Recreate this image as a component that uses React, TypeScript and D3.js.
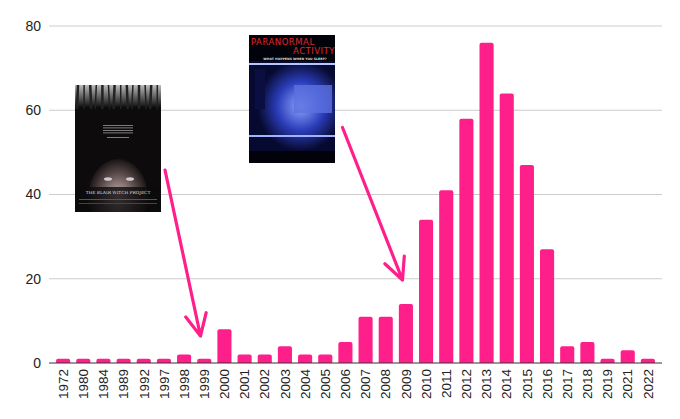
import { useEffect, useRef } from 'react';
import * as d3 from 'd3';

const years = ['1972', '1980', '1984', '1989', '1992', '1997', '1998', '1999', '2000', '2001', '2002', '2003', '2004', '2005', '2006', '2007', '2008', '2009', '2010', '2011', '2012', '2013', '2014', '2015', '2016', '2017', '2018', '2019', '2021', '2022'];
const counts = [1, 1, 1, 1, 1, 1, 2, 1, 8, 2, 2, 4, 2, 2, 5, 11, 11, 14, 34, 41, 58, 76, 64, 47, 27, 4, 5, 1, 3, 1];
const yTicks = [0, 20, 40, 60, 80];

const width = 680;
const height = 419;
const PINK = '#ff1f8a';
const FONT = '"Liberation Sans", Arial, sans-serif';

export default function App() {
  const svgRef = useRef<SVGSVGElement>(null);

  useEffect(() => {
    if (!svgRef.current) return;
    const svg = d3.select(svgRef.current);
    svg.selectAll('*').remove();

    const margin = { top: 26, right: 18, bottom: 56, left: 49 };
    const innerW = width - margin.left - margin.right;
    const innerH = height - margin.top - margin.bottom;

    const x = d3.scaleBand<string>().domain(years).range([0, innerW]).paddingInner(0.3).paddingOuter(0.35);
    const y = d3.scaleLinear().domain([0, 80]).range([innerH, 0]);

    const g = svg.append('g').attr('transform', `translate(${margin.left},${margin.top})`);

    // grid
    g.selectAll('.grid')
      .data(yTicks.filter(t => t > 0))
      .enter().append('line')
      .attr('x1', 0).attr('x2', innerW)
      .attr('y1', d => y(d)).attr('y2', d => y(d))
      .attr('stroke', '#cccccc').attr('stroke-width', 1);

    g.selectAll('.ytick')
      .data(yTicks)
      .enter().append('text')
      .attr('x', -8).attr('y', d => y(d)).attr('dy', '0.35em')
      .attr('text-anchor', 'end')
      .style('font-family', FONT)
      .style('font-size', '14px')
      .attr('fill', '#222')
      .text(d => d);

    // bars
    g.selectAll('.bar')
      .data(years.map((yr, i) => ({ yr, v: counts[i] })))
      .enter().append('path')
      .attr('fill', PINK)
      .attr('d', d => {
        const x0 = x(d.yr)!;
        const w = x.bandwidth();
        const top = y(d.v);
        const bottom = y(0);
        const r = Math.min(2, (bottom - top) / 2);
        return `M${x0},${bottom}V${top + r}Q${x0},${top} ${x0 + r},${top}H${x0 + w - r}Q${x0 + w},${top} ${x0 + w},${top + r}V${bottom}Z`;
      });

    // baseline
    g.append('line')
      .attr('x1', 0).attr('x2', innerW)
      .attr('y1', y(0)).attr('y2', y(0))
      .attr('stroke', '#333').attr('stroke-width', 1);

    // x labels
    g.selectAll('.xlabel')
      .data(years)
      .enter().append('text')
      .attr('transform', d => `translate(${x(d)! + x.bandwidth() / 2},${innerH + 6}) rotate(-90)`)
      .attr('dy', '0.35em')
      .attr('text-anchor', 'end')
      .style('font-family', FONT)
      .style('font-size', '13.5px')
      .attr('fill', '#222')
      .text(d => d);

    // posters
    const defs = svg.append('defs');
    const bwGrad = defs.append('linearGradient').attr('id', 'bwTop').attr('x1', 0).attr('x2', 0).attr('y1', 0).attr('y2', 1);
    bwGrad.append('stop').attr('offset', '0%').attr('stop-color', '#bbb');
    bwGrad.append('stop').attr('offset', '100%').attr('stop-color', '#111');
    const faceGrad = defs.append('radialGradient').attr('id', 'bwFace');
    faceGrad.append('stop').attr('offset', '0%').attr('stop-color', '#cdbab6');
    faceGrad.append('stop').attr('offset', '60%').attr('stop-color', '#5e4e4e');
    faceGrad.append('stop').attr('offset', '100%').attr('stop-color', '#1a1414');
    const paGrad = defs.append('radialGradient').attr('id', 'paScene').attr('cx', '60%').attr('cy', '50%');
    paGrad.append('stop').attr('offset', '0%').attr('stop-color', '#8fa6ff');
    paGrad.append('stop').attr('offset', '55%').attr('stop-color', '#2a3cb8');
    paGrad.append('stop').attr('offset', '100%').attr('stop-color', '#070a30');
    defs.append('clipPath').attr('id', 'bwClip')
      .append('rect').attr('width', 86).attr('height', 127);
    defs.append('clipPath').attr('id', 'paClip')
      .append('rect').attr('width', 86).attr('height', 128);

    const bw = svg.append('g').attr('transform', 'translate(75,85)').append('g').attr('clip-path', 'url(#bwClip)');
    bw.append('rect').attr('width', 86).attr('height', 127).attr('fill', '#0d0b0c');
    bw.append('rect').attr('width', 86).attr('height', 22).attr('fill', 'url(#bwTop)');
    d3.range(14).forEach(i => {
      bw.append('line')
        .attr('x1', 3 + i * 6.1).attr('x2', 3 + i * 6.1 + (i % 3 - 1))
        .attr('y1', 0).attr('y2', 24)
        .attr('stroke', '#222').attr('stroke-width', i % 2 ? 1.5 : 2.5);
    });
    [40, 42.5, 45, 47.5, 52].forEach((ty, i) => {
      bw.append('rect').attr('x', i === 4 ? 32 : 28).attr('y', ty).attr('width', i === 4 ? 22 : 30).attr('height', 0.8).attr('fill', '#999');
    });
    bw.append('ellipse').attr('cx', 43).attr('cy', 112).attr('rx', 30).attr('ry', 38).attr('fill', 'url(#bwFace)');
    bw.append('rect').attr('x', 0).attr('y', 102).attr('width', 86).attr('height', 25).attr('fill', '#0d0b0c').attr('opacity', 0.8);
    bw.append('ellipse').attr('cx', 33).attr('cy', 94).attr('rx', 4).attr('ry', 1.8).attr('fill', '#ccc');
    bw.append('ellipse').attr('cx', 55).attr('cy', 94).attr('rx', 4).attr('ry', 1.8).attr('fill', '#ccc');
    bw.append('text')
      .attr('x', 43).attr('y', 109).attr('text-anchor', 'middle')
      .style('font-family', '"DejaVu Serif", serif').style('font-size', '4.3px')
      .attr('fill', '#ddd').text('THE BLAIR WITCH PROJECT');
    bw.append('rect').attr('x', 4).attr('y', 114).attr('width', 78).attr('height', 1).attr('fill', '#555');
    bw.append('rect').attr('x', 4).attr('y', 118).attr('width', 78).attr('height', 1).attr('fill', '#444');

    const pa = svg.append('g').attr('transform', 'translate(249,35)').append('g').attr('clip-path', 'url(#paClip)');
    pa.append('rect').attr('width', 86).attr('height', 128).attr('fill', '#02030a');
    pa.append('rect').attr('x', 0).attr('y', 26).attr('width', 86).attr('height', 90).attr('fill', 'url(#paScene)');
    pa.append('rect').attr('x', 0).attr('y', 28).attr('width', 86).attr('height', 2).attr('fill', '#b8c6ff');
    pa.append('rect').attr('x', 0).attr('y', 100).attr('width', 86).attr('height', 2).attr('fill', '#9fb2ff');
    pa.append('rect').attr('x', 45).attr('y', 50).attr('width', 38).attr('height', 28).attr('fill', '#5d72e0').attr('opacity', 0.8);
    pa.append('rect').attr('x', 6).attr('y', 34).attr('width', 10).attr('height', 40).attr('fill', '#0a0e40');
    pa.append('text')
      .attr('x', 2).attr('y', 10)
      .style('font-family', '"DejaVu Sans", sans-serif').style('font-size', '8.5px').style('letter-spacing', '0.5px')
      .attr('fill', '#e0262a').text('PARANORMAL');
    pa.append('text')
      .attr('x', 86).attr('y', 19).attr('text-anchor', 'end')
      .style('font-family', '"DejaVu Sans", sans-serif').style('font-size', '8.5px').style('letter-spacing', '0.5px')
      .attr('fill', '#e0262a').text('ACTIVITY');
    pa.append('text')
      .attr('x', 46).attr('y', 25).attr('text-anchor', 'middle')
      .style('font-family', '"DejaVu Sans", sans-serif').style('font-size', '3.2px').style('font-weight', 'bold')
      .attr('fill', '#ddd').text('WHAT HAPPENS WHEN YOU SLEEP?');

    // arrows
    const arrows = [
      { from: [165, 170], to: [200.5, 336] },
      { from: [342.5, 127.5], to: [402.5, 280] },
    ];
    arrows.forEach(a => {
      const [x1, y1] = a.from;
      const [x2, y2] = a.to;
      const ang = Math.atan2(y2 - y1, x2 - x1);
      const len = 24;
      const spread = 0.45;
      const w1 = [x2 - len * Math.cos(ang - spread), y2 - len * Math.sin(ang - spread)];
      const w2 = [x2 - len * Math.cos(ang + spread), y2 - len * Math.sin(ang + spread)];
      svg.append('path')
        .attr('d', `M${x1},${y1}L${x2},${y2}M${w1[0]},${w1[1]}L${x2},${y2}L${w2[0]},${w2[1]}`)
        .attr('fill', 'none')
        .attr('stroke', PINK)
        .attr('stroke-width', 3.2)
        .attr('stroke-linecap', 'round')
        .attr('stroke-linejoin', 'round');
    });
  }, []);

  return (
    <svg
      ref={svgRef}
      width={width}
      height={height}
      style={{ position: 'absolute', left: 0, top: 0, background: '#fff' }}
    />
  );
}
